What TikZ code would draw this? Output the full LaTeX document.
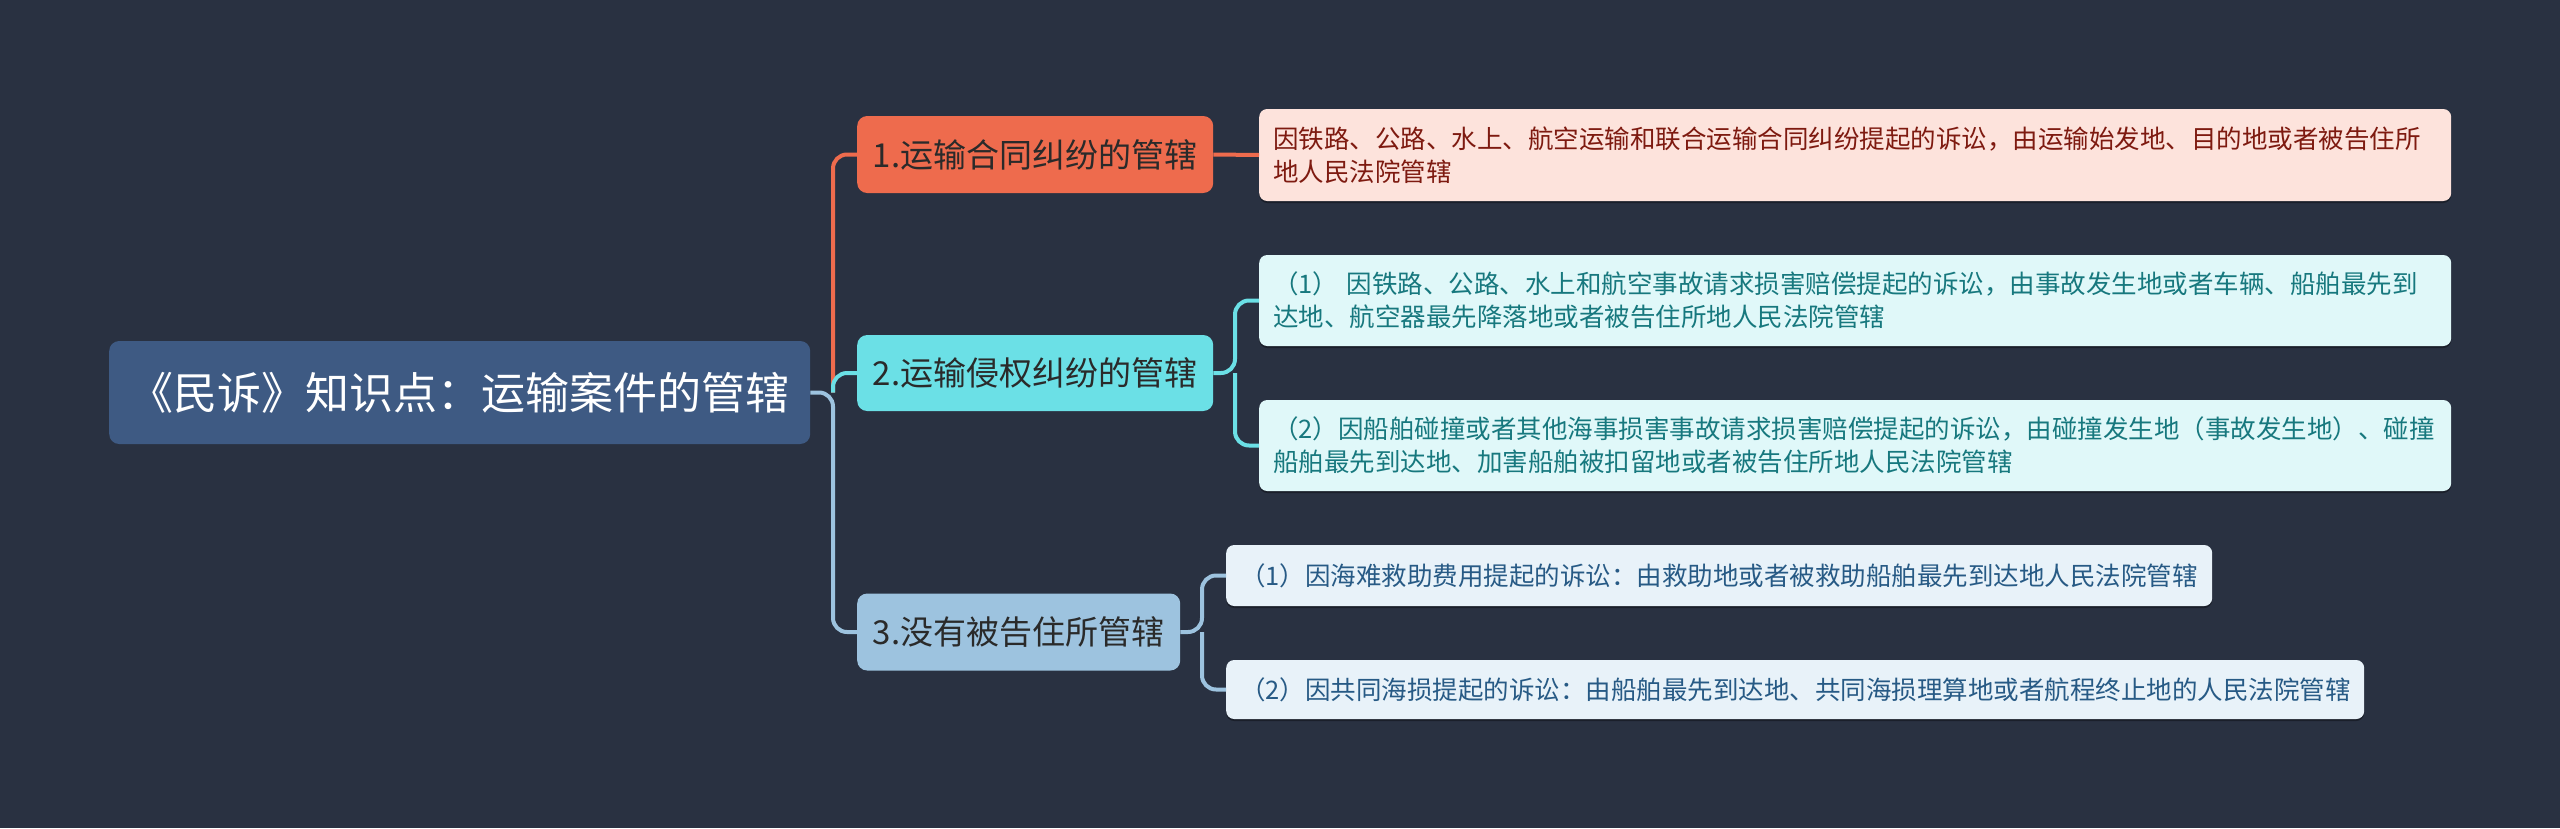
\documentclass[tikz,border=0pt]{standalone}
\usepackage{fontspec}
\setmainfont{Noto Sans CJK SC}
\usetikzlibrary{shadows}
\definecolor{bg}{HTML}{293141}
\definecolor{rootc}{HTML}{3E5A83}
\definecolor{cone}{HTML}{EE6B4D}
\definecolor{ctwo}{HTML}{6BE0E6}
\definecolor{cthree}{HTML}{9DC3DF}
\definecolor{btext}{HTML}{2A2A2A}
\definecolor{lonefill}{HTML}{FDE3DC}
\definecolor{lonetext}{HTML}{7E1A10}
\definecolor{ltwofill}{HTML}{E0F8F9}
\definecolor{ltwotext}{HTML}{17787E}
\definecolor{lthreefill}{HTML}{E8F2F9}
\definecolor{lthreetext}{HTML}{275A85}
\begin{document}
\begin{tikzpicture}[x=1pt,y=-1pt,
  rootbox/.style={fill=rootc, rounded corners=10pt, text=white,
    font=\fontsize{44}{52}\selectfont, inner sep=0pt,
    minimum width=701pt, minimum height=103pt, anchor=west},
  branchbox/.style={rounded corners=10pt, text=btext,
    font=\fontsize{33}{40}\selectfont, inner sep=0pt,
    minimum height=77pt, anchor=west},
  leafbox/.style={rounded corners=8pt, font=\fontsize{25.5}{33}\selectfont,
    inner xsep=14pt, inner ysep=0pt, align=left, anchor=west,
    drop shadow={shadow xshift=0pt, shadow yshift=-2pt, fill=black, opacity=0.35}},
  link/.style={line width=4pt, rounded corners=14pt}
]
\fill[bg] (0,0) rectangle (2560,828);
\useasboundingbox (0,0) rectangle (2560,828);

% nodes
\node[rootbox] (root) at (109,392.5) {《民诉》知识点：运输案件的管辖};

\node[branchbox, fill=cone, minimum width=356pt] (b1) at (857,154.5) {1.运输合同纠纷的管辖};
\node[branchbox, fill=ctwo, minimum width=356pt, minimum height=76pt] (b2) at (857,373) {2.运输侵权纠纷的管辖};
\node[branchbox, fill=cthree, minimum width=323pt] (b3) at (857,632) {3.没有被告住所管辖};

\node[leafbox, fill=lonefill, text=lonetext, text width=1164pt, minimum height=92pt] (l1) at (1259,155)
  {因铁路、公路、水上、航空运输和联合运输合同纠纷提起的诉讼，由运输始发地、目的地或者被告住所\\地人民法院管辖};
\node[leafbox, fill=ltwofill, text=ltwotext, text width=1164pt, minimum height=91pt] (l2a) at (1259,300.5)
  {（1） 因铁路、公路、水上和航空事故请求损害赔偿提起的诉讼，由事故发生地或者车辆、船舶最先到\\达地、航空器最先降落地或者被告住所地人民法院管辖};
\node[leafbox, fill=ltwofill, text=ltwotext, text width=1164pt, minimum height=91pt] (l2b) at (1259,445.5)
  {（2）因船舶碰撞或者其他海事损害事故请求损害赔偿提起的诉讼，由碰撞发生地（事故发生地）、碰撞\\船舶最先到达地、加害船舶被扣留地或者被告住所地人民法院管辖};
\node[leafbox, fill=lthreefill, text=lthreetext, text width=958pt, minimum height=61pt] (l3a) at (1226,575.5)
  {（1）因海难救助费用提起的诉讼：由救助地或者被救助船舶最先到达地人民法院管辖};
\node[leafbox, fill=lthreefill, text=lthreetext, text width=1110pt, minimum height=59pt] (l3b) at (1226,689.5)
  {（2）因共同海损提起的诉讼：由船舶最先到达地、共同海损理算地或者航程终止地的人民法院管辖};

% connectors
\coordinate (trunk) at (833,392.5);
\coordinate (jtwo) at (1235,373);
\coordinate (jthree) at (1202,632);

\draw[link, cone] (trunk) |- (b1.west);
\draw[link, ctwo] (trunk) |- (b2.west);
\draw[link, cthree] (root.east) -- (trunk) |- (b3.west);

\draw[link, cone] (b1.east) -- (l1.west);
\draw[link, ctwo] (b2.east) -- (jtwo) |- (l2a.west);
\draw[link, ctwo] (jtwo) |- (l2b.west);
\draw[link, cthree] (b3.east) -- (jthree) |- (l3a.west);
\draw[link, cthree] (jthree) |- (l3b.west);
\end{tikzpicture}
\end{document}
